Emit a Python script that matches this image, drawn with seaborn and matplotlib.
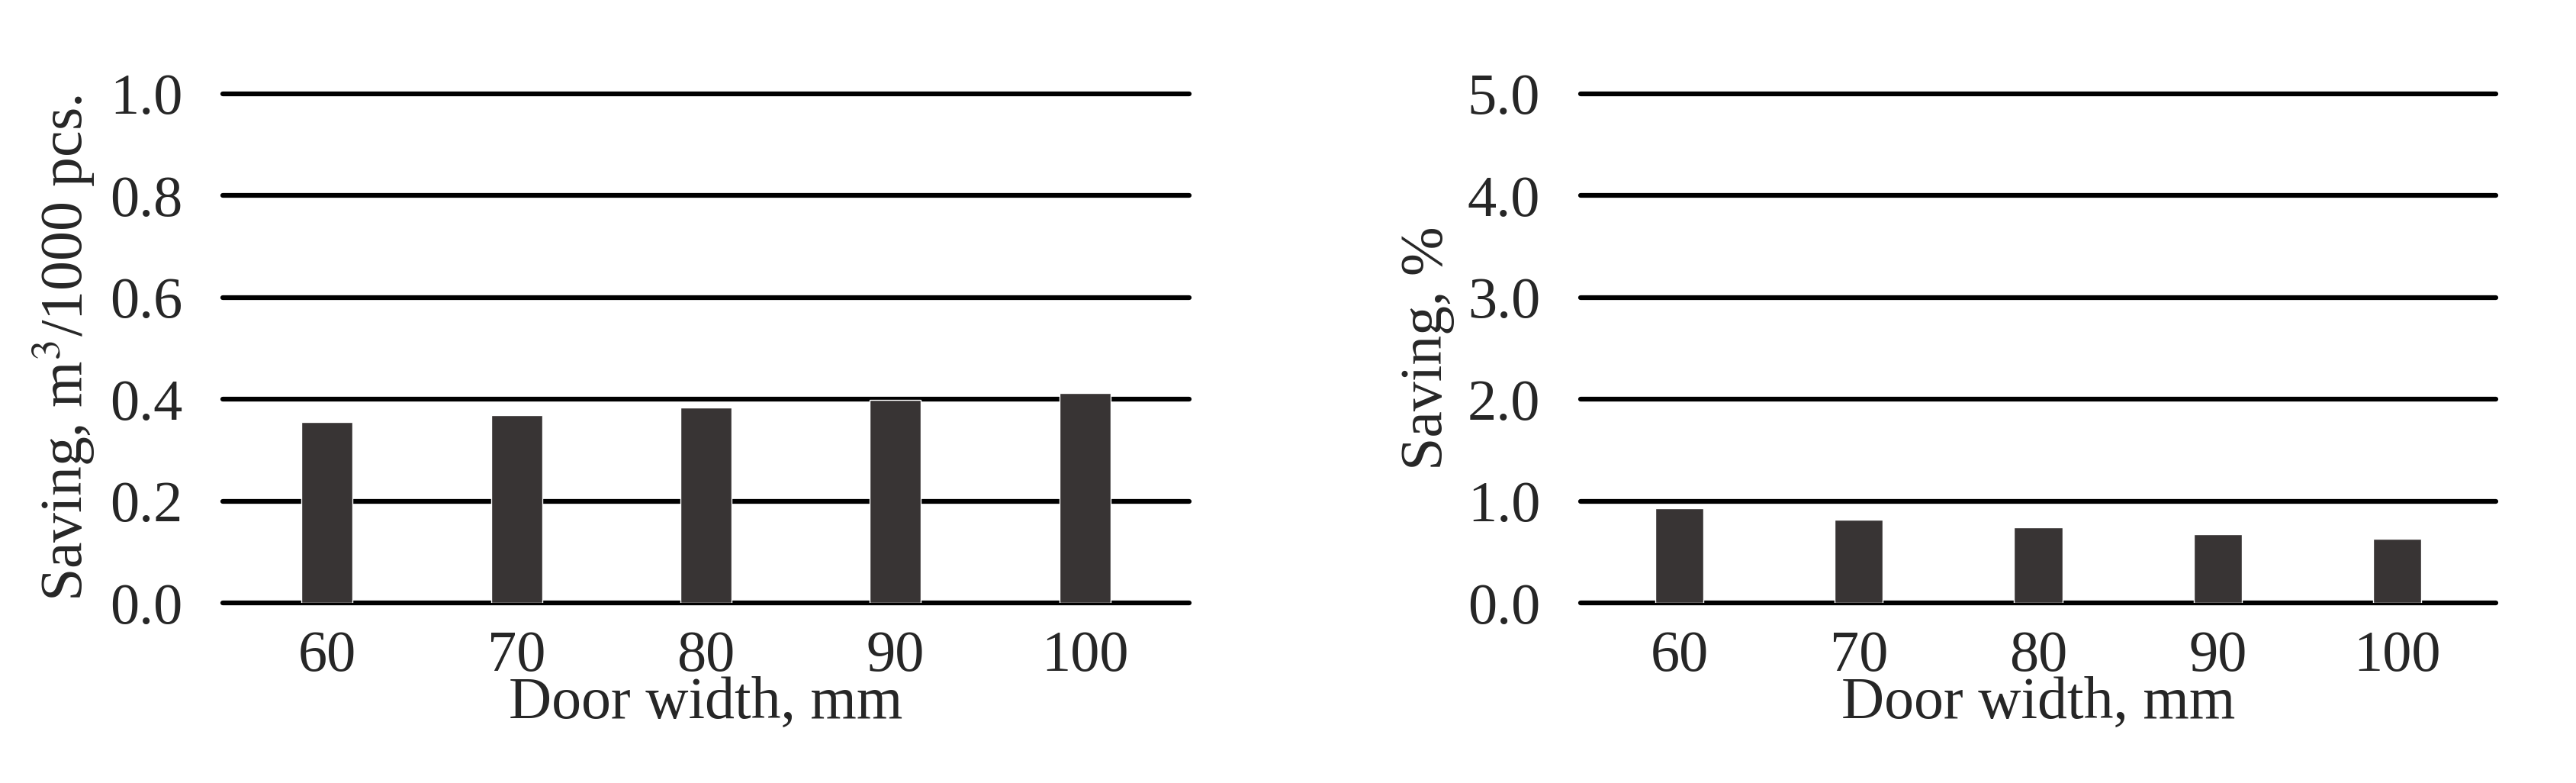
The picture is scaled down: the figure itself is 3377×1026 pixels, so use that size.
import matplotlib
matplotlib.use('Agg')
import matplotlib.pyplot as plt
import seaborn as sns
import pandas as pd

widths = ['60', '70', '80', '90', '100']
saving_vol = [0.355, 0.369, 0.384, 0.399, 0.413]
saving_pct = [0.93, 0.815, 0.74, 0.673, 0.628]

sns.set_style('white')
plt.rcParams['font.family'] = ['Liberation Serif', 'DejaVu Serif']
plt.rcParams['mathtext.fontset'] = 'stix'

fig = plt.figure(figsize=(33.77, 10.26), dpi=100)
ax1 = fig.add_axes([292 / 3377, 1 - 790 / 1026, 1267 / 3377, 667 / 1026])
ax2 = fig.add_axes([2072 / 3377, 1 - 790 / 1026, 1200 / 3377, 667 / 1026])

df = pd.DataFrame({'width': widths, 'vol': saving_vol, 'pct': saving_pct})

for ax, col, ticks, ylab in [
        (ax1, 'vol', [0, 0.2, 0.4, 0.6, 0.8, 1.0], 'Saving, m$^3$/1000 pcs.'),
        (ax2, 'pct', [0, 1, 2, 3, 4, 5], 'Saving, %')]:
    sns.barplot(data=df, x='width', y=col, ax=ax, color='#383434', width=0.27, saturation=1)
    ax.set_ylim(0, ticks[-1])
    ax.set_yticks(ticks)
    ax.set_yticklabels(['{:.1f}'.format(t) for t in ticks])
    ax.yaxis.grid(True, color='black', linewidth=4.5)
    ax.set_axisbelow(True)
    for s in ax.spines.values():
        s.set_visible(False)
    ax.tick_params(axis='both', labelsize=55, length=0, pad=26)
    ax.tick_params(axis='y', pad=38)
    ax.set_xlabel('Door width, mm', fontsize=56, labelpad=-6)
    ax.set_ylabel(ylab, fontsize=56, labelpad=12)
    ax.set_xlim(-0.55, 4.55)
    for l in ax.get_ygridlines():
        l.set_clip_on(False)

fig.savefig('out.png', dpi=100)
